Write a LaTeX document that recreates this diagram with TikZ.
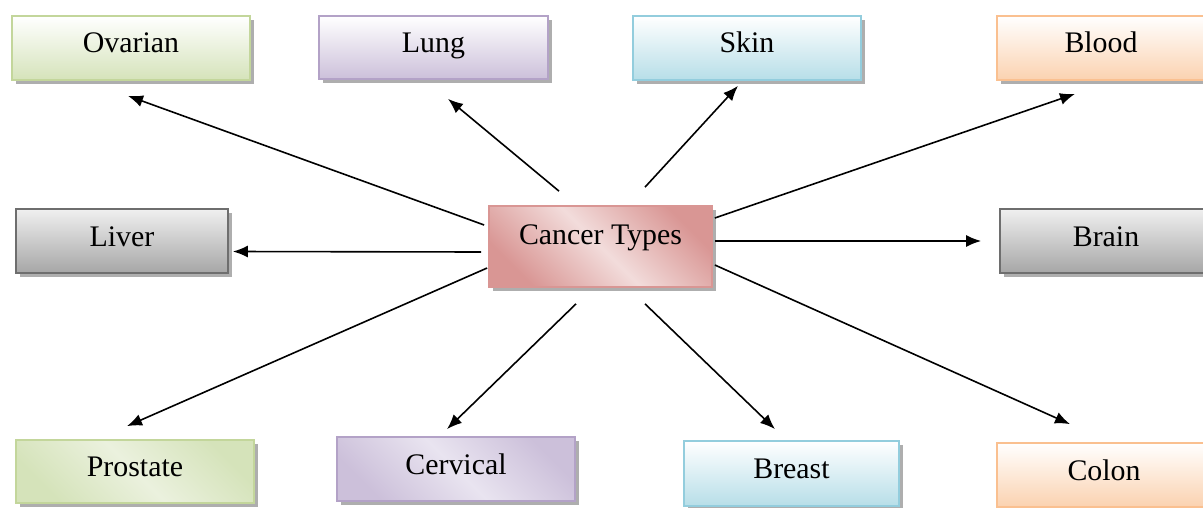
\documentclass[tikz,border=0pt]{standalone}
\usepackage{fontspec}
\setmainfont{Liberation Serif}
\usetikzlibrary{arrows.meta,calc,shadows}

\definecolor{greenline}{HTML}{C3D69B}
\definecolor{greenfill}{HTML}{D5E3BA}
\definecolor{greenlight}{HTML}{EBF1DE}
\definecolor{purpleline}{HTML}{B3A2C7}
\definecolor{purplefill}{HTML}{CCC0DA}
\definecolor{purplelight}{HTML}{E9E4F0}
\definecolor{blueline}{HTML}{93CDDD}
\definecolor{bluefill}{HTML}{B7DEE8}
\definecolor{peachline}{HTML}{FAC090}
\definecolor{peachfill}{HTML}{FBD2B0}
\definecolor{grayline}{HTML}{6E6E6E}
\definecolor{grayfill}{HTML}{A6A6A6}
\definecolor{pinkline}{HTML}{D99694}
\definecolor{pinkfill}{HTML}{D99694}
\definecolor{pinklight}{HTML}{F2DCDB}

\begin{document}
\begin{tikzpicture}[x=0.02cm, y=-0.02cm,
    box/.style={draw, line width=0.035cm, inner sep=0pt,
      font=\fontsize{17}{20}\selectfont, text height=0.45cm, text depth=0.25cm,
      drop shadow={shadow xshift=0.08cm, shadow yshift=-0.08cm, fill=black!45, opacity=0.7}},
    arr/.style={-{Latex[length=0.3cm,width=0.24cm]}, line width=0.032cm}]

    \useasboundingbox (0,0) rectangle (1203,507);

    % top row
    \node[box, draw=greenline, top color=white, bottom color=greenfill,
      minimum width=4.76cm, minimum height=1.28cm] (ov) at (131,48) {Ovarian};
    \node[box, draw=purpleline, top color=white, bottom color=purplefill,
      minimum width=4.58cm, minimum height=1.26cm] (lung) at (433.5,47.5) {Lung};
    \node[box, draw=blueline, top color=white, bottom color=bluefill,
      minimum width=4.56cm, minimum height=1.28cm] (skin) at (747,48) {Skin};
    \node[box, draw=peachline, top color=white, bottom color=peachfill,
      minimum width=4.16cm, minimum height=1.28cm] (blood) at (1101,48) {Blood};

    % middle row
    \node[box, draw=grayline, top color=white!94!black, bottom color=grayfill,
      minimum width=4.24cm, minimum height=1.28cm] (liver) at (122,241) {Liver};
    \node[box, draw=pinkline, top color=pinkfill, bottom color=pinkfill,
      middle color=pinklight, shading angle=135, text height=0.4cm, text depth=0.5cm,
      minimum width=4.46cm, minimum height=1.62cm] (ct) at (600.5,246.5) {Cancer Types};
    \node[box, draw=grayline, top color=white!94!black, bottom color=grayfill,
      minimum width=4.24cm, minimum height=1.28cm] (brain) at (1106,241) {Brain};

    % bottom row
    \node[box, draw=greenline, top color=greenfill, bottom color=greenfill,
      middle color=greenlight, shading angle=135,
      minimum width=4.76cm, minimum height=1.26cm] (prostate) at (135,471.5) {Prostate};
    \node[box, draw=purpleline, top color=purplefill, bottom color=purplefill,
      middle color=purplelight, shading angle=135,
      minimum width=4.76cm, minimum height=1.28cm] (cervical) at (456,469) {Cervical};
    \node[box, draw=blueline, top color=white, bottom color=bluefill,
      minimum width=4.30cm, minimum height=1.30cm] (breast) at (791.5,473.5) {Breast};
    \node[box, draw=peachline, top color=white, bottom color=peachfill,
      minimum width=4.28cm, minimum height=1.28cm] (colon) at (1104,475) {Colon};

    % arrows up
    \draw[arr] ($(ct.west)+(-4,-21.5)$) -- ($(ov.south)+(-3,15)$);
    \draw[arr] ($(ct.north)+(-41.5,-14)$) -- ($(lung.south)+(14.5,19)$);
    \draw[arr] ($(ct.north)+(44.5,-18)$) -- ($(skin.south)+(-9,5)$);
    \draw[arr] ($(ct.east)+(2,-28.5)$) -- ($(blood.south)+(-26,13)$);

    % arrows sideways
    \draw[arr] ($(ct.west)+(-7,5.5)$) -- ($(liver.east)+(4,10.5)$);
    \draw[arr] ($(ct.east)+(2,-5.5)$) -- ($(brain.west)+(-18,0)$);

    % arrows down
    \draw[arr] ($(ct.west)+(-1,21.5)$) -- ($(prostate.north)+(-8,-13)$);
    \draw[arr] ($(ct.south)+(-24.5,16)$) -- ($(cervical.north)+(-9,-7)$);
    \draw[arr] ($(ct.south)+(44.5,16)$) -- ($(breast.north)+(-16.5,-11)$);
    \draw[arr] ($(ct.east)+(2,18.5)$) -- ($(colon.north)+(-34,-18)$);

\end{tikzpicture}
\end{document}
